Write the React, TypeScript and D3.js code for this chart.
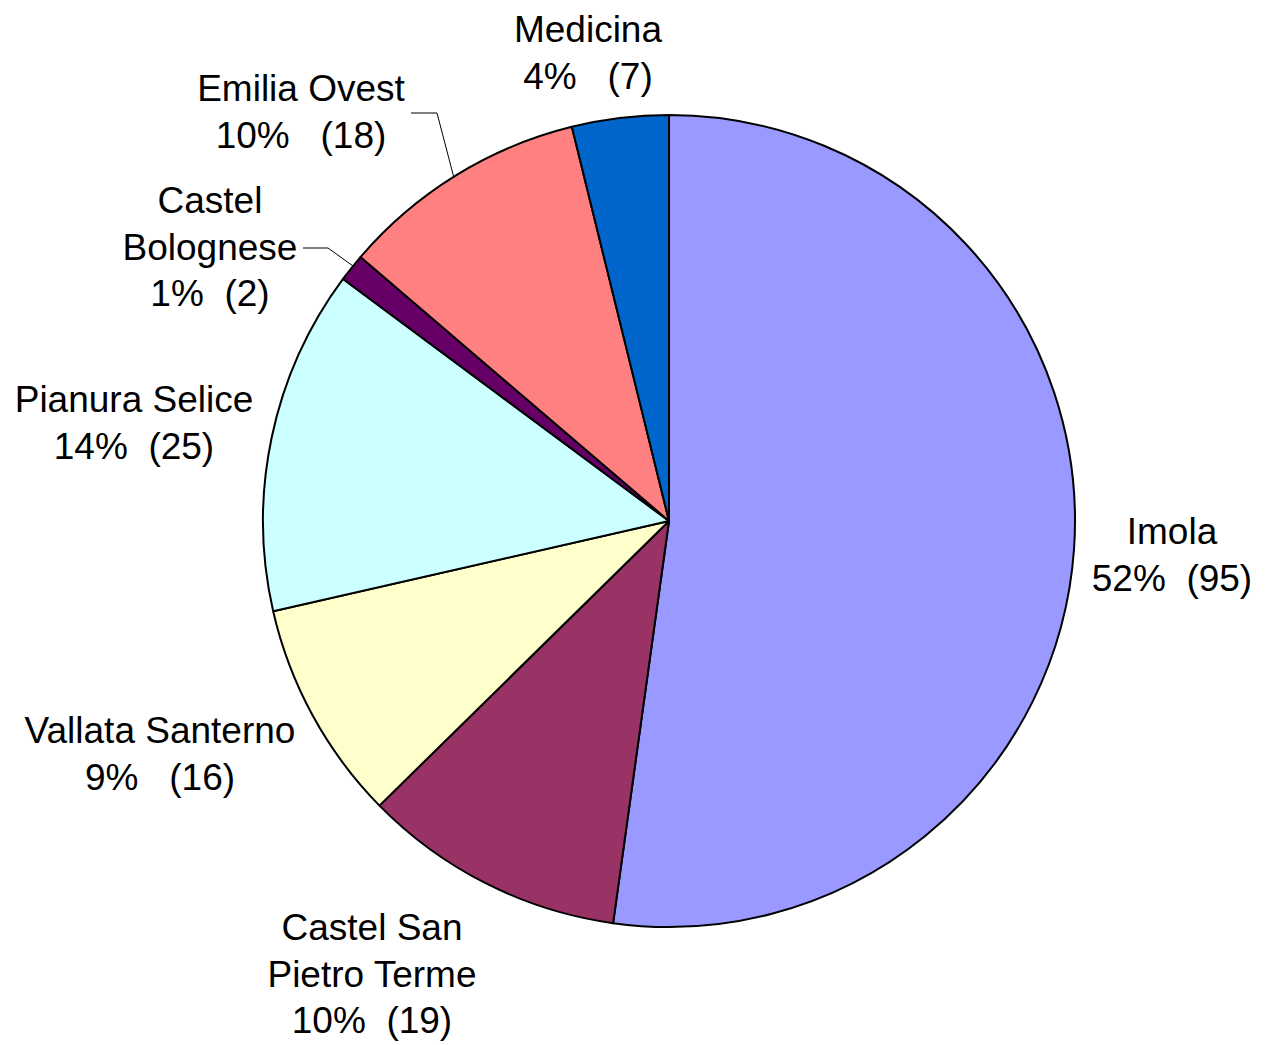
import React from "react";
import * as d3 from "d3";

const categories = ["Imola", "Castel San Pietro Terme", "Vallata Santerno", "Pianura Selice", "Castel Bolognese", "Emilia Ovest", "Medicina"];
const values = [95, 19, 16, 25, 2, 18, 7];
const colors = ["#9999FF", "#993366", "#FFFFCC", "#CCFFFF", "#660066", "#FF8080", "#0066CC"];
const labelLines = [
  ["Imola", "52%  (95)"],
  ["Castel San", "Pietro Terme", "10%  (19)"],
  ["Vallata Santerno", "9%   (16)"],
  ["Pianura Selice", "14%  (25)"],
  ["Castel", "Bolognese", "1%  (2)"],
  ["Emilia Ovest", "10%   (18)"],
  ["Medicina", "4%   (7)"],
];

const W = 1274, H = 1045;
const cx = 669, cy = 521, R = 406;
// label anchor positions (centre x, first baseline y)
const labelPos: [number, number][] = [
  [1172, 544],
  [372, 940],
  [160, 743],
  [134, 412],
  [210, 213],
  [301, 101],
  [588, 42],
];
const lineH = 46.5;
const leaders: [number, number][][] = [
  [],
  [],
  [],
  [],
  [[303, 248], [328, 248], [353, 266]],
  [[411, 113], [437, 113], [454, 178]],
  [],
];

export default function App() {
  const pie = d3.pie<number>().sort(null).value((d) => d).startAngle(0).endAngle(2 * Math.PI);
  const arcs = pie(values);
  const arc = d3.arc<d3.PieArcDatum<number>>().innerRadius(0).outerRadius(R);
  const line = d3.line();
  return (
    <svg width={W} height={H} style={{ position: "absolute", left: 0, top: 0, background: "#fff" }}>
      <rect width={W} height={H} fill="#fff" />
      <g transform={`translate(${cx},${cy})`}>
        {arcs.map((a, i) => (
          <path key={categories[i]} d={arc(a) || ""} fill={colors[i]} stroke="#000" strokeWidth={2} strokeLinejoin="round" />
        ))}
      </g>
      {leaders.map((pts, i) =>
        pts.length ? <path key={"l" + i} d={line(pts) || ""} fill="none" stroke="#000" strokeWidth={1} /> : null
      )}
      {labelLines.map((lines, i) => (
        <text
          key={"t" + i}
          textAnchor="middle"
          fontFamily="'Liberation Sans', Arial, sans-serif"
          fontSize={37}
          fill="#000"
          style={{ whiteSpace: "pre" }}
        >
          {lines.map((s, j) => (
            <tspan key={j} x={labelPos[i][0]} y={labelPos[i][1] + j * lineH}>
              {s}
            </tspan>
          ))}
        </text>
      ))}
    </svg>
  );
}
